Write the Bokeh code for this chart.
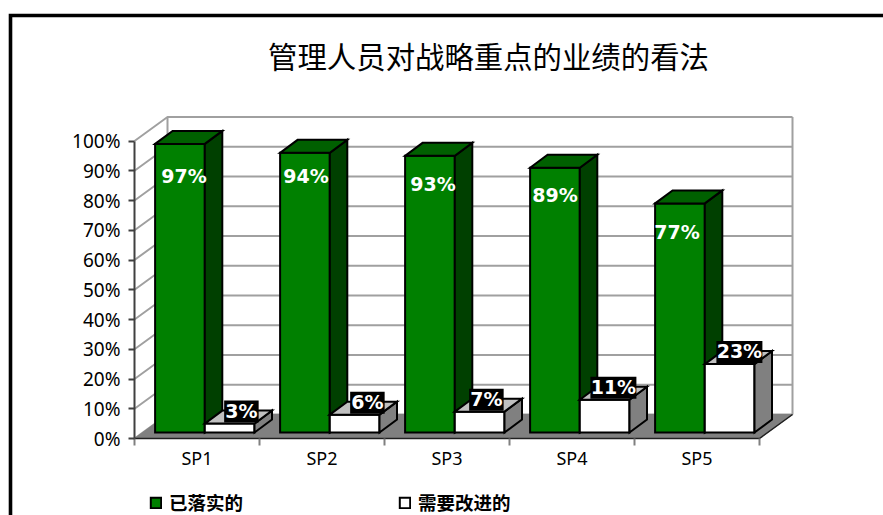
from bokeh.plotting import figure
from bokeh.models import (ColumnDataSource, FixedTicker, LinearAxis, Range1d, Legend, LegendItem,
                          LabelSet, PrintfTickFormatter)
from bokeh.core.properties import value
from bokeh.embed import file_html
from bokeh.resources import INLINE

title_text = "管理人员对战略重点的业绩的看法"
categories = ["SP1", "SP2", "SP3", "SP4", "SP5"]
done = [97, 94, 93, 89, 77]
improve = [3, 6, 7, 11, 23]
done_label_drop_px = [32, 23, 28, 27, 29]
done_label_shift_px = [4, 1, 3, 0, -3]
improve_label_shift_px = [3, 4, -2, 0, 1]
y_ticks = [0, 10, 20, 30, 40, 50, 60, 70, 80, 90, 100]
series_names = ["已落实的", "需要改进的"]

# pixel scale of the axes and where the origin lies on the canvas
X_PX, Y_PX = 125.0, 2.975
W, H = 883, 515
ORIGIN_X, ORIGIN_Y = 134, 438


def ux(px):
    return (px - ORIGIN_X) / X_PX


def uy(px):
    return (ORIGIN_Y - px) / Y_PX


# 3-D depth in axis units
WALL_DX, WALL_DY = 33 / X_PX, 24 / Y_PX
BAR_DX, BAR_DY = 17.5 / X_PX, 13 / Y_PX
BASE_Y = 6 / Y_PX
BAR_LEFT, BAR_W = 20.6 / X_PX, 49.7 / X_PX
n = len(categories)

p = figure(width=W, height=H, output_backend="svg", toolbar_location=None,
           x_range=Range1d(ux(0), ux(W)), y_range=Range1d(uy(H), uy(0)), x_axis_type=None, y_axis_type=None,
           min_border=0, outline_line_color=None, background_fill_color="white", border_fill_color="white")
p.grid.visible = False

# page frame (open at right and bottom, as the picture cuts it off)
p.line([ux(10), ux(10), ux(W + 5)], [uy(H + 5), uy(15), uy(15)], line_color="black", line_width=3.6,
       line_join="miter")

# walls and gridlines
grid_xs = [[0, WALL_DX, n + WALL_DX] for _ in y_ticks]
grid_ys = [[v, v + WALL_DY, v + WALL_DY] for v in y_ticks]
p.multi_line(grid_xs, grid_ys, line_color="#A0A0A0", line_width=2)
p.line([WALL_DX, WALL_DX], [WALL_DY, 100 + WALL_DY], line_color="#A0A0A0", line_width=2)
p.line([n + WALL_DX, n + WALL_DX], [WALL_DY, 100 + WALL_DY], line_color="#A0A0A0", line_width=2)
p.patch([0, n, n + WALL_DX, WALL_DX], [0, 0, WALL_DY, WALL_DY], fill_color="#808080", line_color="#808080")
p.line([0, n, n + WALL_DX], [0, 0, WALL_DY], line_color="#202020", line_width=1.5)


def bar(left, v, front, side, top):
    right = left + BAR_W
    base = BASE_Y
    r = p.quad(left=[left], right=[right], bottom=[base], top=[v + base],
               fill_color=front, line_color="black", line_width=2, line_join="miter")
    p.patch([right, right + BAR_DX, right + BAR_DX, right],
            [base, base + BAR_DY, v + base + BAR_DY, v + base],
            fill_color=side, line_color="black", line_width=2, line_join="miter")
    p.patch([left, left + BAR_DX, right + BAR_DX, right],
            [v + base, v + base + BAR_DY, v + base + BAR_DY, v + base],
            fill_color=top, line_color="black", line_width=2, line_join="miter")
    return r


green, white = None, None
for i in range(n):
    g = bar(i + BAR_LEFT, done[i], "#008000", "#004000", "#006000")
    w = bar(i + BAR_LEFT + BAR_W, improve[i], "#FFFFFF", "#808080", "#C0C0C0")
    green, white = green or g, white or w

# axes, drawn at the origin inside the frame
y_axis = LinearAxis(ticker=FixedTicker(ticks=y_ticks), formatter=PrintfTickFormatter(format="%d%%"),
                    bounds=(0, 100), fixed_location=0)
y_axis.major_label_text_font = "Noto Sans"
y_axis.major_label_text_font_size = "19px"
y_axis.major_label_text_color = "#000000"
y_axis.major_label_standoff = 8
y_axis.axis_line_color = "#404040"
y_axis.axis_line_width = 2
y_axis.major_tick_line_color = "#404040"
y_axis.major_tick_line_width = 2
y_axis.major_tick_out = 6
y_axis.major_tick_in = 0
y_axis.minor_tick_line_color = None
p.add_layout(y_axis, "left")

centers = [i + 0.5 for i in range(n)]
x_axis = LinearAxis(ticker=FixedTicker(ticks=centers, minor_ticks=list(range(n + 1))),
                    major_label_overrides={c: t for c, t in zip(centers, categories)}, bounds=(0, n),
                    fixed_location=0)
x_axis.major_label_text_font = "Noto Sans"
x_axis.major_label_text_font_size = "18px"
x_axis.major_label_text_color = "#000000"
x_axis.major_label_standoff = 0
x_axis.axis_line_color = None
x_axis.major_tick_line_color = None
x_axis.minor_tick_line_color = "#808080"
x_axis.minor_tick_line_width = 2
x_axis.minor_tick_out = 7
x_axis.minor_tick_in = 0
p.add_layout(x_axis, "below")

# data labels
src_done = ColumnDataSource(dict(
    x=[i + BAR_LEFT + BAR_W / 2 + s / X_PX for i, s in enumerate(done_label_shift_px)],
    y=[v + BASE_Y - d / Y_PX for v, d in zip(done, done_label_drop_px)],
    t=[f"{v}%" for v in done]))
p.add_layout(LabelSet(x="x", y="y", text="t", source=src_done, text_align="center", text_baseline="middle",
                      text_color="white", text_font=value("DejaVu Sans"), text_font_style="bold",
                      text_font_size="19px"))
src_imp = ColumnDataSource(dict(
    x=[i + BAR_LEFT + BAR_W * 1.5 + BAR_DX / 2 + s / X_PX for i, s in enumerate(improve_label_shift_px)],
    y=[v + BASE_Y + 12 / Y_PX for v in improve],
    w=[11.5 * len(f"{v}%") + 11.5 for v in improve],
    t=[f"{v}%" for v in improve]))
p.rect(x="x", y="y", width="w", height=22, width_units="screen", height_units="screen", source=src_imp,
       fill_color="black", line_color=None)
p.add_layout(LabelSet(x="x", y="y", text="t", source=src_imp, text_align="center", text_baseline="middle",
                      text_color="white", text_font=value("DejaVu Sans"), text_font_style="bold",
                      text_font_size="19px", y_offset=1))

# title
p.text([ux(488)], [uy(54)], text=[title_text], text_align="center", text_baseline="middle",
       text_font=value("Noto Sans CJK SC"), text_font_size="29.4px", text_color="black")

# legend
legend = Legend(items=[LegendItem(label=series_names[0], renderers=[green]),
                       LegendItem(label=series_names[1], renderers=[white])],
                location=(149, 0), orientation="horizontal", spacing=155,
                glyph_width=13, glyph_height=13, label_standoff=7, padding=0, margin=0,
                label_text_font="Noto Sans CJK SC", label_text_font_size="18.5px", label_text_font_style="bold",
                label_text_color="black", background_fill_alpha=0, border_line_color=None)
p.add_layout(legend, "center")

open("out.html", "w").write(file_html(p, INLINE))
